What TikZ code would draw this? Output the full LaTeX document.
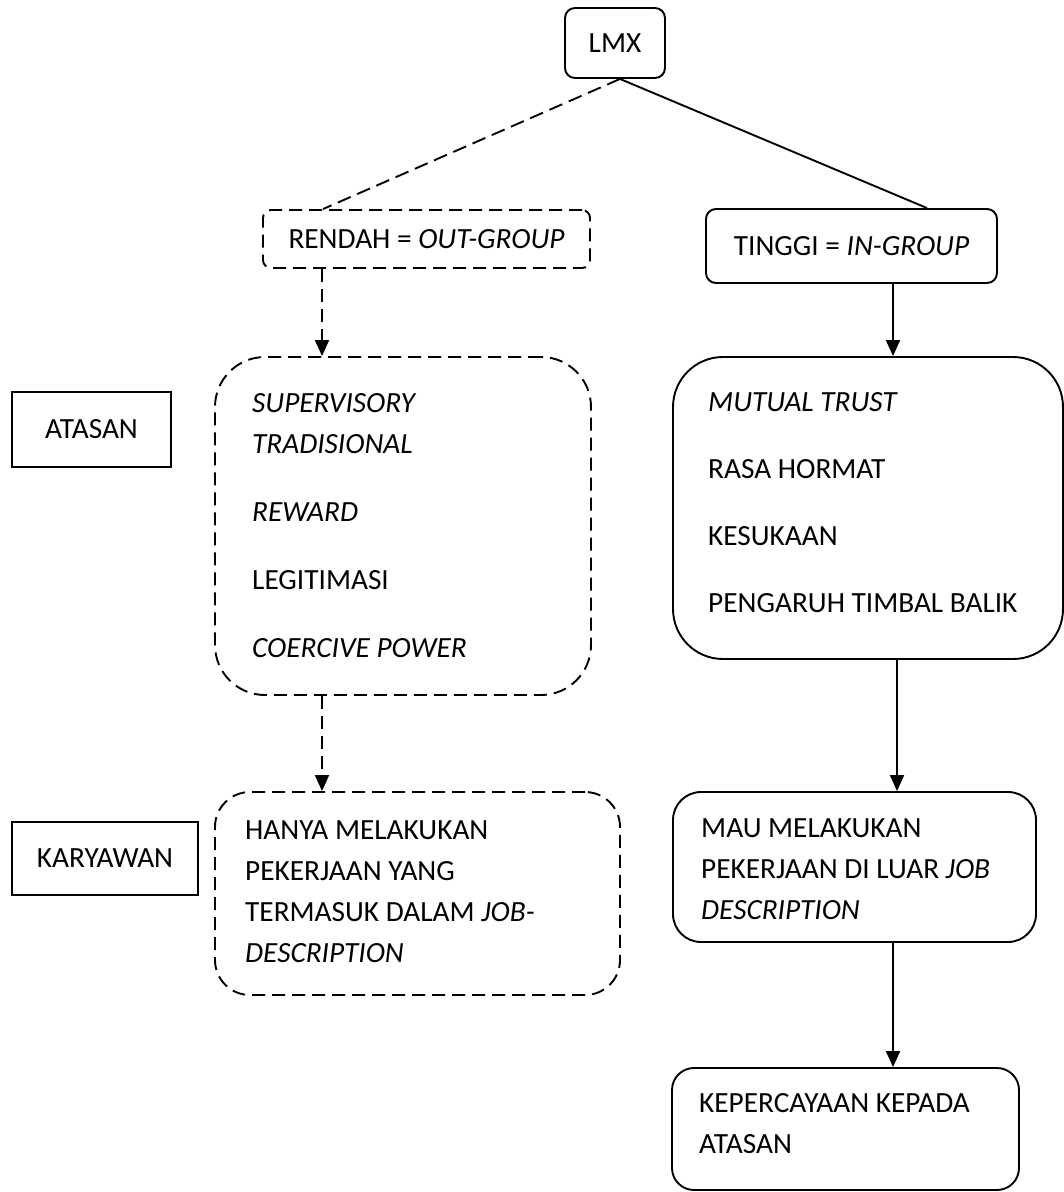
\documentclass[tikz,border=0pt]{standalone}
\usepackage{fontspec}
\setmainfont{Carlito}
\usetikzlibrary{arrows.meta,calc}
\begin{document}
\begin{tikzpicture}[x=1pt,y=-1pt,
  box/.style={draw, line width=1.9pt, inner sep=0pt, rounded corners=#1},
  box/.default=10pt,
  dbox/.style={box=#1, dash pattern=on 13pt off 7pt},
  dbox/.default=10pt,
  sqbox/.style={draw, line width=1.9pt, inner sep=0pt},
  txt/.style={anchor=north west, inner sep=0pt, align=left},
  conn/.style={line width=1.9pt},
  arr/.style={conn, -{Triangle[width=14pt,length=16pt]}},
  dconn/.style={conn, dash pattern=on 14pt off 7pt},
  darr/.style={arr, dash pattern=on 13pt off 7pt},
  font=\fontsize{29.3}{41}\selectfont
]
\useasboundingbox (0,0) rectangle (1064,1192);

% boxes
\node[box=10pt, minimum width=100pt, minimum height=70pt] (lmx) at (615,43) {LMX};
\node[dbox=8pt, minimum width=327pt, minimum height=58pt] (rendah) at (426.5,239) {RENDAH = \textit{OUT-GROUP}};
\node[box=10pt, minimum width=291pt, minimum height=74pt] (tinggi) at (851.5,246) {TINGGI = \textit{IN-GROUP}};
\node[dbox=50pt, minimum width=376pt, minimum height=338pt] (sup) at (403,526) {};
\node[box=50pt, minimum width=390pt, minimum height=302pt] (mut) at (868,508) {};
\node[dbox=35pt, minimum width=405pt, minimum height=203pt] (hanya) at (417.5,893.5) {};
\node[box=28pt, minimum width=363pt, minimum height=150pt] (mau) at (854.5,867) {};
\node[box=22pt, minimum width=347pt, minimum height=122pt] (kep) at (845.5,1129) {};
\node[sqbox, minimum width=159pt, minimum height=75pt] (atasan) at (91.5,429.5) {ATASAN};
\node[sqbox, minimum width=186pt, minimum height=73pt] (karyawan) at (105,858.5) {KARYAWAN};

% texts inside boxes
\node[txt] (suptxt) at (252,393.5) {\textit{SUPERVISORY}\\\textit{TRADISIONAL}\\[27pt]\textit{REWARD}\\[27pt]LEGITIMASI\\[27pt]\textit{COERCIVE POWER}};
\node[txt] (muttxt) at (708,392.5) {\textit{MUTUAL TRUST}\\[26pt]RASA HORMAT\\[26pt]KESUKAAN\\[26pt]PENGARUH TIMBAL BALIK};
\node[txt] (hanyatxt) at (245,820.5) {HANYA MELAKUKAN\\PEKERJAAN YANG\\TERMASUK DALAM \textit{JOB-}\\\textit{DESCRIPTION}};
\node[txt] (mautxt) at (701,818.5) {MAU MELAKUKAN\\PEKERJAAN DI LUAR \textit{JOB}\\\textit{DESCRIPTION}};
\node[txt] (keptxt) at (699,1093.5) {KEPERCAYAAN KEPADA\\ATASAN};

% connectors
\draw[dconn] ([xshift=5pt]lmx.south) -- ([xshift=-103.5pt]rendah.north);
\draw[conn] ([xshift=5pt]lmx.south) -- ([xshift=75.5pt]tinggi.north);
\draw[darr] ([xshift=-104.5pt]rendah.south) -- ([xshift=-104.5pt]rendah.south |- sup.north);
\draw[arr] ([xshift=41.5pt]tinggi.south) -- ([xshift=41.5pt]tinggi.south |- mut.north);
\draw[darr] ([xshift=-81pt]sup.south) -- ([xshift=-81pt]sup.south |- hanya.north);
\draw[arr] ([xshift=29pt]mut.south) -- ([xshift=29pt]mut.south |- mau.north);
\draw[arr] ([xshift=38.5pt]mau.south) -- ([xshift=38.5pt]mau.south |- kep.north);
\end{tikzpicture}
\end{document}
